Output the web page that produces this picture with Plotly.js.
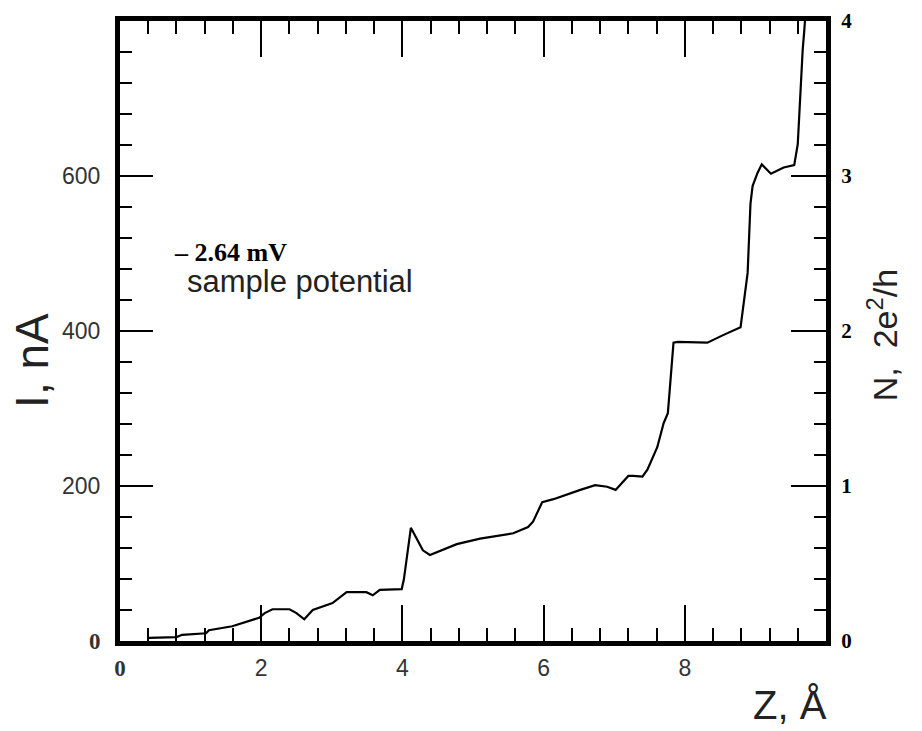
<!DOCTYPE html>
<html>
<head>
<meta charset="utf-8">
<script src="https://cdn.plot.ly/plotly-3.0.1.min.js"></script>
<style>
html,body{margin:0;padding:0;background:#fff;}
#chart{width:922px;height:731px;}
</style>
</head>
<body>
<div id="chart"></div>
<script>
// Tip-sample separation Z (Å)
const zValues = [0.41,0.80,0.88,1.22,1.26,1.59,1.97,2.05,2.16,2.40,2.50,2.61,2.73,3.01,3.21,3.49,3.58,3.68,3.99,4.02,4.12,4.29,4.39,4.77,5.10,5.57,5.78,5.85,5.98,6.14,6.52,6.73,6.90,7.02,7.20,7.27,7.40,7.47,7.61,7.70,7.76,7.80,7.84,7.90,8.32,8.55,8.75,8.79,8.89,8.93,8.96,9.03,9.09,9.22,9.40,9.55,9.60,9.63,9.67,9.69,9.71];
// Current I (nA)
const currentValues = [4,5,8,10,14,19,30,36,41,41,36,28,40,49,63,63,59,66,67,79,146,117,111,125,132,139,147,154,179,183,195,201,199,195,213,213,212,221,250,281,294,337,385,386,385,395,403,405,475,564,587,604,615,603,611,614,641,697,763,785,810];

const xTickVals = [0,2,4,6,8];
const xTickText = ['<span style="font-family:\'Liberation Serif\'"><b>0</b></span>','2','4','6','8'];
const yTickVals = [0,200,400,600];
const yTickText = ['<span style="font-family:\'Liberation Serif\'"><b>0</b></span>','200','400','600'];
const nTickVals = [0,1,2,3,4];
const nTickText = ['<b>0</b>','<b>1</b>','<b>2</b>','<b>3</b>','<b>4</b>'];

const traces = [
  {x: zValues, y: currentValues, type: 'scatter', mode: 'lines',
   line: {color: '#000', width: 2.2}, hoverinfo: 'skip', showlegend: false},
  {x: [null], y: [null], type: 'scatter', mode: 'lines', yaxis: 'y2', showlegend: false, hoverinfo: 'skip'}
];

const layout = {
  width: 922, height: 731,
  margin: {l: 120, r: 96, t: 21, b: 90},
  paper_bgcolor: '#fff', plot_bgcolor: '#fff',
  showlegend: false,
  font: {family: 'Liberation Sans, Arial, sans-serif', color: '#222'},
  xaxis: {
    range: [0, 10], showgrid: false, zeroline: false,
    tickmode: 'array', tickvals: xTickVals, ticktext: xTickText,
    ticks: 'inside', ticklen: 36, tickwidth: 2, tickcolor: '#000',
    minor: {dtick: 0.4, ticks: 'inside', ticklen: 13, tickwidth: 2, tickcolor: '#000'},
    showline: true, linewidth: 5, linecolor: '#000', mirror: 'ticks',
    tickfont: {size: 23, color: '#333'}, ticklabelstandoff: 2
  },
  yaxis: {
    range: [0, 800], showgrid: false, zeroline: false,
    tickmode: 'array', tickvals: yTickVals, ticktext: yTickText,
    ticks: 'inside', ticklen: 33, tickwidth: 2, tickcolor: '#000',
    minor: {dtick: 40, ticks: 'inside', ticklen: 12, tickwidth: 2, tickcolor: '#000'},
    showline: true, linewidth: 5, linecolor: '#000',
    tickfont: {size: 23, color: '#333'}, ticklabelstandoff: 10
  },
  yaxis2: {
    overlaying: 'y', side: 'right', anchor: 'x',
    range: [0, 4], showgrid: false, zeroline: false,
    tickmode: 'array', tickvals: nTickVals, ticktext: nTickText,
    ticks: 'inside', ticklen: 35, tickwidth: 2, tickcolor: '#000',
    minor: {dtick: 0.2, ticks: 'inside', ticklen: 12, tickwidth: 2, tickcolor: '#000'},
    showline: true, linewidth: 5, linecolor: '#000',
    tickfont: {size: 21, color: '#000', family: 'Liberation Serif, Times New Roman, serif'},
    ticklabelstandoff: 6
  },
  annotations: [
    {text: 'I, nA', xref: 'paper', yref: 'paper', x: -0.125, y: 0.453, textangle: -90,
     showarrow: false, font: {size: 46, color: '#222'}, xanchor: 'center', yanchor: 'middle'},
    {text: 'N,  2e<sup>2</sup>/h', xref: 'paper', yref: 'paper', x: 1.08, y: 0.494, textangle: -90,
     showarrow: false, font: {size: 34, color: '#222'}, xanchor: 'center', yanchor: 'middle'},
    {text: 'Z, Å', xref: 'paper', yref: 'paper', x: 0.949, y: -0.104,
     showarrow: false, font: {size: 40, color: '#222'}, xanchor: 'center', yanchor: 'middle'},
    {text: '<b>– 2.64 mV</b>', xref: 'paper', yref: 'paper', x: 0.156, y: 0.627,
     showarrow: false, font: {size: 26, color: '#000', family: 'Liberation Serif, Times New Roman, serif'},
     xanchor: 'center', yanchor: 'middle'},
    {text: 'sample potential', xref: 'paper', yref: 'paper', x: 0.255, y: 0.58,
     showarrow: false, font: {size: 31, color: '#222'}, xanchor: 'center', yanchor: 'middle'}
  ]
};

Plotly.newPlot('chart', traces, layout, {displayModeBar: false, staticPlot: true});
</script>
</body>
</html>
